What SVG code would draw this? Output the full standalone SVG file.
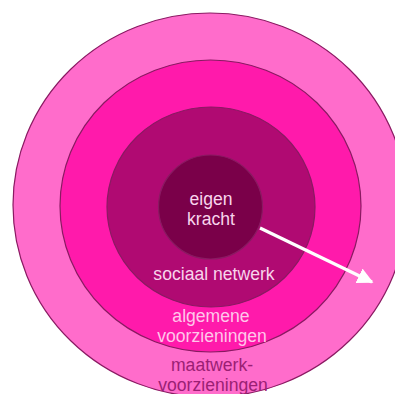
<svg xmlns="http://www.w3.org/2000/svg" width="395" height="394" viewBox="0 0 395 394">
  <style>
    .ring { stroke: #8a1a62; stroke-width: 1.2; }
    text { font-family: "Liberation Sans", Arial, sans-serif; font-size: 17.6px; text-anchor: middle; }
    .light { fill: #f8d4ec; }
    .pale { fill: #ffc6ea; }
    .dark { fill: #9b1f74; }
  </style>
  <defs>
    <marker id="ah" viewBox="0 0 10 10" refX="9" refY="5" markerWidth="5" markerHeight="5" orient="auto" markerUnits="strokeWidth">
      <path d="M0,0 L10,5 L0,10 z" fill="#ffffff"/>
    </marker>
  </defs>
  <rect width="395" height="394" fill="#ffffff"/>
  <g id="maatwerk">
    <ellipse class="ring" cx="210" cy="205" rx="197" ry="192" fill="#ff6ccb"/>
    <text class="dark" x="212" y="371">maatwerk-</text>
    <text class="dark" x="213" y="391">voorzieningen</text>
  </g>
  <g id="algemene">
    <ellipse class="ring" cx="210.5" cy="206" rx="150.5" ry="146" fill="#ff1aab"/>
    <text class="pale" x="211" y="322">algemene</text>
    <text class="pale" x="212" y="342">voorzieningen</text>
  </g>
  <g id="sociaal">
    <ellipse class="ring" cx="211" cy="207" rx="104" ry="100" fill="#b00a72"/>
    <text class="light" x="214" y="280">sociaal netwerk</text>
  </g>
  <g id="eigen">
    <circle class="ring" cx="210.5" cy="207" r="52" fill="#7a0049"/>
    <text class="light" x="211" y="205">eigen</text>
    <text class="light" x="211" y="225">kracht</text>
  </g>
  <g id="connectors">
    <line x1="260" y1="228" x2="372" y2="282" stroke="#ffffff" stroke-width="3.2" marker-end="url(#ah)"/>
  </g>
</svg>
